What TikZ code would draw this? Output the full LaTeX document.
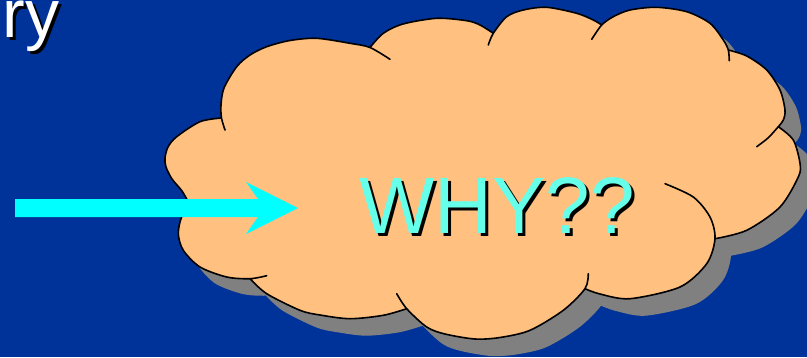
\documentclass[tikz,border=0pt]{standalone}
\usepackage{fontspec}
\setmainfont{Liberation Sans}
\definecolor{bgblue}{RGB}{0,51,153}
\definecolor{cloudfill}{RGB}{255,192,128}
\definecolor{cloudshadow}{RGB}{128,128,128}
\definecolor{arrowcyan}{RGB}{0,255,255}
\definecolor{whycyan}{RGB}{102,255,234}
\tikzset{
  cloudshape/.style={insert path={
    plot[smooth] coordinates {(225,130) (221.5,118) (221,105) (224,88) (236.7,66.7) (250,55) (266.7,46.7) (290,40.5) (316.7,38.3) (350,43.3) (370,47.5) (390,59.3)} #1
    plot[smooth] coordinates {(370,47.5) (383.3,33.3) (403,24) (436.7,18.3) (466.7,20.7) (480,25) (493.3,33.3)} #1
    plot[smooth] coordinates {(488.3,45) (493.3,33.3) (506.7,16.7) (523.3,10) (546.7,7.3) (576.7,13.3) (593.3,20) (601.7,25)} #1
    plot[smooth] coordinates {(591.7,39.3) (601.7,25) (613.3,16.7) (630,10) (656.7,7.3) (686.7,11.7) (710,23.3) (723.3,40) (728.3,50) (729.3,60.7)} #1
    plot[smooth] coordinates {(728.3,50) (746.7,56) (766.7,70) (780,90) (785,110) (783.3,120) (778.3,126.7) (768,138) (756.7,146.7)} #1
    plot[smooth] coordinates {(778.3,126.7) (793.3,140) (800,163.3) (798.3,177) (780,207) (746.7,230.3) (715,238.7)} #1
    plot[smooth] coordinates {(665,183.7) (693.3,197) (710,217) (715,238.7) (706.7,263.7) (680,287) (630,298.7) (600,294) (585,288.7)} #1
    plot[smooth] coordinates {(588.3,273.7) (585,288.7) (563.3,310.3) (530,330.3) (500,337.5) (475,339) (445,334) (426.7,327) (406.7,308.7) (396.7,293.7)} #1
    plot[smooth] coordinates {(406.7,308.7) (383.3,315.3) (350,318.7) (320,315) (300,310.3) (266.7,293.7) (250,278.7)} #1
    plot[smooth] coordinates {(266.7,275.7) (250,278.7) (226.7,277) (200,267) (183.3,250.3) (178.3,233.7) (181.7,216.7) (190,205)} #1
    plot[smooth] coordinates {(190,205) (182,191) (172,179) (166,167) (165,158) (168,147) (176.7,136.7) (200,121.7) (221.5,118)} #1
  }},
  cloudcore/.style={insert path={(221.5,118) -- (370,47.5) -- (493.3,33.3) -- (601.7,25) -- (728.3,50) -- (778.3,126.7) -- (715,238.7) -- (585,288.7) -- (406.7,308.7) -- (250,278.7) -- (190,205) -- cycle}},
  whyfont/.style={font={\fontsize{80}{96}\selectfont}, inner sep=0pt, anchor=base west},
  ryfont/.style={font={\fontsize{68}{80}\selectfont}, inner sep=0pt, anchor=base east},
}
\begin{document}
\begin{tikzpicture}[x=1pt,y=-1pt]
\useasboundingbox (0,0) rectangle (807,357);
\fill[bgblue] (0,0) rectangle (807,357);
% title fragment
\node[ryfont, text=black] (ryshadow) at (62.5,40.5) {ry};
\node[ryfont, text=white] (ry) at (59.5,37.5) {ry};
% cloud
\fill[cloudshadow, shift={(16,17)}, cloudcore, cloudshape={-- (480,180) -- cycle}];
\fill[cloudfill, cloudcore, cloudshape={-- (480,180) -- cycle}];
\draw[black, line width=1.6pt, line cap=round, cloudshape={}];
% arrow
\coordinate (arrowtail) at (15,208);
\coordinate (arrowtip) at (298,208);
\fill[arrowcyan] (arrowtail) ++(0,-9) -- ++(243,0) -- ++(-12,-17) -- (arrowtip) -- ++(-52,26) -- ++(12,-17) -- ++(-243,0) -- cycle;
% text
\node[whyfont, text=black] (whyshadow) at (362,236.3) {WHY??};
\node[whyfont, text=whycyan] (why) at (359,233.3) {WHY??};
\end{tikzpicture}
\end{document}
